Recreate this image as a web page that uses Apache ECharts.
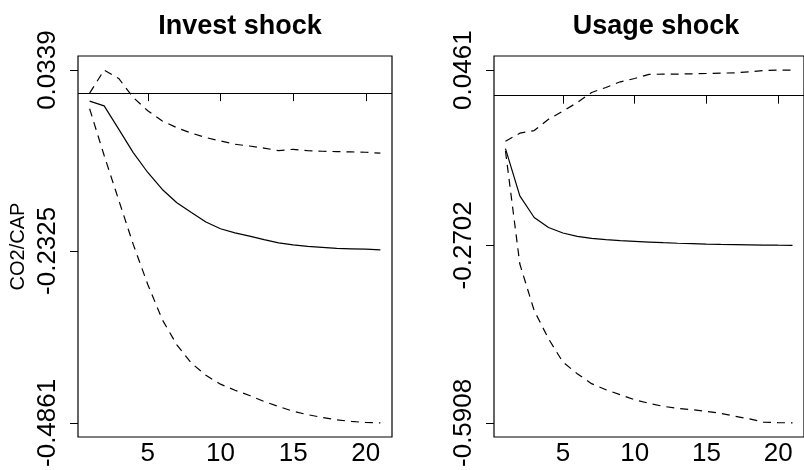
<!DOCTYPE html>
<html>
<head>
<meta charset="utf-8">
<style>
  html, body { margin: 0; padding: 0; background: #fff; }
  #chart { width: 804px; height: 470px; }
</style>
<script src="https://cdn.jsdelivr.net/npm/echarts@6/dist/echarts.min.js"></script>
</head>
<body>
<div id="chart"></div>
<script>
// horizon 1..21
var periods = [1, 2, 3, 4, 5, 6, 7, 8, 9, 10, 11, 12, 13, 14, 15, 16, 17, 18, 19, 20, 21];

// Invest shock
var investIrf = [-0.0118, -0.0188, -0.053, -0.0877, -0.117, -0.142, -0.1616, -0.176, -0.19, -0.200, -0.206,
  -0.2108, -0.216, -0.2207, -0.2236, -0.226, -0.2275, -0.229, -0.2295, -0.230, -0.231];
var investUpper = [0.000, 0.0339, 0.0216, -0.0065, -0.026, -0.041, -0.051, -0.059, -0.0655, -0.0705, -0.0754,
  -0.078, -0.081, -0.0848, -0.0828, -0.0848, -0.0857, -0.0862, -0.0867, -0.0872, -0.0886];
var investLower = [-0.023, -0.092, -0.1576, -0.223, -0.282, -0.334, -0.371, -0.398, -0.416, -0.429, -0.438,
  -0.4457, -0.4545, -0.462, -0.469, -0.474, -0.478, -0.4815, -0.484, -0.4855, -0.4861];

// Usage shock
var usageIrf = [-0.0955, -0.181, -0.220, -0.238, -0.248, -0.254, -0.2577, -0.260, -0.2618, -0.263, -0.2643,
  -0.2655, -0.2665, -0.2673, -0.268, -0.2686, -0.269, -0.2694, -0.2697, -0.270, -0.2702];
var usageUpper = [-0.0823, -0.0678, -0.063, -0.0425, -0.028, -0.0124, 0.0058, 0.0148, 0.025, 0.031, 0.0383,
  0.0389, 0.0389, 0.0395, 0.040, 0.0407, 0.0413, 0.043, 0.0455, 0.046, 0.0461];
var usageLower = [-0.100, -0.304, -0.388, -0.439, -0.481, -0.502, -0.520, -0.531, -0.540, -0.549, -0.5555,
  -0.561, -0.5645, -0.567, -0.570, -0.5735, -0.579, -0.5835, -0.5897, -0.5903, -0.5908];

// axis ticks
var xTicks = [5, 10, 15, 20];
var investYTicks = [0.0339, -0.2325, -0.4861];
var usageYTicks = [0.0461, -0.2702, -0.5908];

var FONT = "'Liberation Sans', Arial, Helvetica, sans-serif";

function pairs(vals) {
  return periods.map(function (p, i) { return [p, vals[i]]; });
}

function xAxisFor(gi) {
  return {
    type: "value",
    gridIndex: gi,
    min: 0.2,
    max: 21.8,
    axisLine: { show: false },
    splitLine: { show: false },
    axisTick: { show: true, inside: false, length: 8, customValues: xTicks,
      lineStyle: { color: "#000", width: 1 } },
    axisLabel: { customValues: xTicks, margin: 4, color: "#000",
      fontFamily: FONT, fontSize: 26 }
  };
}

function yAxisFor(gi, mn, mx, ticks, name) {
  return {
    type: "value",
    gridIndex: gi,
    min: mn,
    max: mx,
    name: name,
    nameLocation: "middle",
    nameRotate: 90,
    nameGap: 50,
    nameTextStyle: { color: "#000", fontFamily: FONT, fontSize: 20 },
    axisLine: { show: false },
    splitLine: { show: false },
    axisTick: { show: true, inside: false, length: 8, customValues: ticks,
      lineStyle: { color: "#000", width: 1 } },
    axisLabel: { customValues: ticks, rotate: 90, margin: 17, color: "#000",
      fontFamily: FONT, fontSize: 26,
      formatter: function (v) { return v.toFixed(4); } }
  };
}

function line(gi, vals, dashed, zero) {
  var s = {
    type: "line",
    xAxisIndex: gi,
    yAxisIndex: gi,
    data: pairs(vals),
    showSymbol: false,
    silent: true,
    lineStyle: { color: "#000", width: 1.2, type: dashed ? [8, 6] : "solid" }
  };
  if (zero) {
    s.markLine = {
      silent: true,
      symbol: "none",
      label: { show: false },
      lineStyle: { color: "#000", width: 1.2, type: "solid" },
      data: [{ yAxis: 0 }]
    };
  }
  return s;
}

var chart = echarts.init(document.getElementById("chart"));
chart.setOption({
  animation: false,
  backgroundColor: "#fff",
  title: [
    { text: "Invest shock", left: 235, top: 8, textAlign: "center",
      textStyle: { fontFamily: FONT, fontSize: 27, fontWeight: "bold", color: "#000" } },
    { text: "Usage shock", left: 651, top: 8, textAlign: "center",
      textStyle: { fontFamily: FONT, fontSize: 27, fontWeight: "bold", color: "#000" } }
  ],
  grid: [
    { left: 78, top: 56, width: 314, height: 381, show: true, borderColor: "#000", borderWidth: 1.2,
      backgroundColor: "transparent" },
    { left: 494, top: 56, width: 314, height: 381, show: true, borderColor: "#000", borderWidth: 1.2,
      backgroundColor: "transparent" }
  ],
  xAxis: [xAxisFor(0), xAxisFor(1)],
  yAxis: [
    yAxisFor(0, -0.5069, 0.0547, investYTicks, "CO2/CAP"),
    yAxisFor(1, -0.6163, 0.0716, usageYTicks, "")
  ],
  series: [
    line(0, investIrf, false, true),
    line(0, investUpper, true),
    line(0, investLower, true),
    line(1, usageIrf, false, true),
    line(1, usageUpper, true),
    line(1, usageLower, true)
  ]
});
</script>
</body>
</html>
